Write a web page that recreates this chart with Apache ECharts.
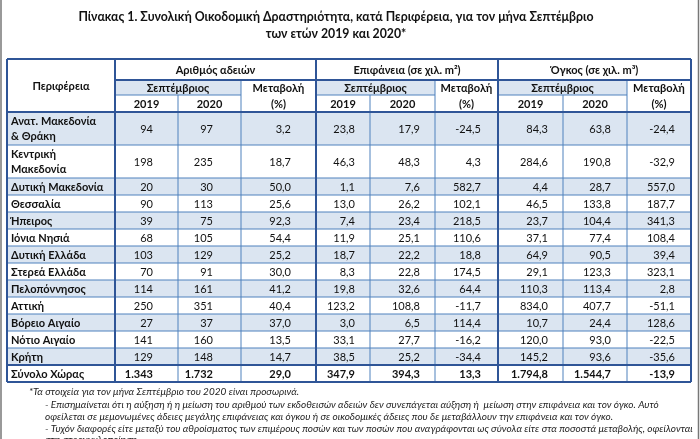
<!DOCTYPE html>
<html>
<head>
<meta charset="utf-8">
<script src="https://cdn.jsdelivr.net/npm/echarts@6/dist/echarts.min.js"></script>
<style>html,body{margin:0;padding:0;background:#fff;}#main{width:700px;height:439px;}</style>
</head>
<body>
<div id="main"></div>
<script>
// ---- DATA ----
const regions = ["Ανατ. Μακεδονία\n& Θράκη", "Κεντρική\nΜακεδονία", "Δυτική Μακεδονία", "Θεσσαλία", "Ήπειρος", "Ιόνια Νησιά", "Δυτική Ελλάδα", "Στερεά Ελλάδα", "Πελοπόννησος", "Αττική", "Βόρειο Αιγαίο", "Νότιο Αιγαίο", "Κρήτη", "Σύνολο Χώρας"];
const permits2019 = [94, 198, 20, 90, 39, 68, 103, 70, 114, 250, 27, 141, 129, 1343];
const permits2020 = [97, 235, 30, 113, 75, 105, 129, 91, 161, 351, 37, 160, 148, 1732];
const permitsChange = [3.2, 18.7, 50.0, 25.6, 92.3, 54.4, 25.2, 30.0, 41.2, 40.4, 37.0, 13.5, 14.7, 29.0];
const area2019 = [23.8, 46.3, 1.1, 13.0, 7.4, 11.9, 18.7, 8.3, 19.8, 123.2, 3.0, 33.1, 38.5, 347.9];
const area2020 = [17.9, 48.3, 7.6, 26.2, 23.4, 25.1, 22.2, 22.8, 32.6, 108.8, 6.5, 27.7, 25.2, 394.3];
const areaChange = [-24.5, 4.3, 582.7, 102.1, 218.5, 110.6, 18.8, 174.5, 64.4, -11.7, 114.4, -16.2, -34.4, 13.3];
const volume2019 = [84.3, 284.6, 4.4, 46.5, 23.7, 37.1, 64.9, 29.1, 110.3, 834.0, 10.7, 120.0, 145.2, 1794.8];
const volume2020 = [63.8, 190.8, 28.7, 133.8, 104.4, 77.4, 90.5, 123.3, 113.4, 407.7, 24.4, 93.0, 93.6, 1544.7];
const volumeChange = [-24.4, -32.9, 557.0, 187.7, 341.3, 108.4, 39.4, 323.1, 2.8, -51.1, 128.6, -22.5, -35.6, -13.9];
const groupTitles = ["Αριθμός αδειών", "Επιφάνεια (σε χιλ. m²)", "Όγκος (σε χιλ. m³)"];
const headerRegion = "Περιφέρεια";
const headerMonth = "Σεπτέμβριος";
const headerChange = "Μεταβολή\n(%)";
const yearLabels = ["2019", "2020"];
const titleLines = ["Πίνακας 1. Συνολική Οικοδομική Δραστηριότητα, κατά Περιφέρεια, για τον μήνα Σεπτέμβριο", "των ετών 2019 και 2020*"];
const notes = [
  "*Τα στοιχεία για τον μήνα Σεπτέμβριο του 2020 είναι προσωρινά.",
  "- Επισημαίνεται ότι η αύξηση ή η μείωση του αριθμού των εκδοθεισών αδειών δεν συνεπάγεται αύξηση ή  μείωση στην επιφάνεια και τον όγκο. Αυτό",
  "οφείλεται σε μεμονωμένες άδειες μεγάλης επιφάνειας και όγκου ή σε οικοδομικές άδειες που δε μεταβάλλουν την επιφάνεια και τον όγκο.",
  "- Τυχόν διαφορές είτε μεταξύ του αθροίσματος των επιμέρους ποσών και των ποσών που αναγράφονται ως σύνολα είτε στα ποσοστά μεταβολής, οφείλονται",
  "στη στρογγυλοποίηση."
];

// ---- LAYOUT ----
const colEdges = [7, 115, 178, 241, 316, 370, 435, 498, 563, 627, 691];
const headerEdges = [59, 80, 95, 112];
const firstRowH = 33, rowH = 17;
const rightPad = [25, 28, 25, 15, 15, 17, 15, 16, 16];
const FONT = 'Lato';
const BLUE = '#dbe5f1';
const THIN = '#4f81bd';
const THICK = '#2f5597';

const rowEdges = headerEdges.slice();
{
  let y = headerEdges[3];
  regions.forEach((r, i) => { y += (i < 2 ? firstRowH : rowH); rowEdges.push(y); });
}
const tableBottom = rowEdges[rowEdges.length - 1];

function fmt(v, dec) {
  const neg = v < 0;
  let s = Math.abs(v).toFixed(dec);
  let [ip, fp] = s.split('.');
  ip = ip.replace(/\B(?=(\d{3})+(?!\d))/g, '.');
  return (neg ? '-' : '') + ip + (fp !== undefined ? ',' + fp : '');
}

const columns = [permits2019, permits2020, permitsChange, area2019, area2020, areaChange, volume2019, volume2020, volumeChange];
const decimals = [0, 0, 1, 1, 1, 1, 1, 1, 1];

const cellMeta = [];
const cellData = [];
function addCell(c0, c1, y0, y1, meta) {
  cellMeta.push(meta);
  cellData.push([colEdges[c0], colEdges[c1], y0, y1, cellMeta.length - 1]);
}
addCell(0, 1, headerEdges[0], headerEdges[3], {text: headerRegion, bold: true, align: 'center', fill: '#fff'});
for (let g = 0; g < 3; g++) {
  const b = 1 + 3 * g;
  addCell(b, b + 3, headerEdges[0], headerEdges[1], {text: groupTitles[g], bold: true, align: 'center', fill: '#fff'});
  addCell(b, b + 2, headerEdges[1], headerEdges[2], {text: headerMonth, bold: true, align: 'center', fill: BLUE});
  addCell(b + 2, b + 3, headerEdges[1], headerEdges[3], {text: headerChange, bold: true, align: 'center', fill: '#fff', lh: 16});
  addCell(b, b + 1, headerEdges[2], headerEdges[3], {text: yearLabels[0], bold: true, align: 'center', fill: '#fff'});
  addCell(b + 1, b + 2, headerEdges[2], headerEdges[3], {text: yearLabels[1], bold: true, align: 'center', fill: '#fff'});
}
regions.forEach((r, i) => {
  const y0 = rowEdges[3 + i], y1 = rowEdges[4 + i];
  const fill = (i % 2 === 0 && i < regions.length - 1) ? BLUE : '#fff';
  const isTotal = i === regions.length - 1;
  addCell(0, 1, y0, y1, {text: r, bold: true, align: 'left', fill: fill, lh: 15});
  columns.forEach((col, c) => {
    addCell(c + 1, c + 2, y0, y1, {text: fmt(col[i], decimals[c]), bold: isTotal, align: 'right', pad: rightPad[c], fill: fill});
  });
});

const lineData = [];
const L = colEdges[0], R = colEdges[colEdges.length - 1];
for (let k = 4; k < rowEdges.length - 2; k++) lineData.push([L, rowEdges[k], R, rowEdges[k], 0]);
for (let g = 0; g < 3; g++) {
  const b = 1 + 3 * g;
  lineData.push([colEdges[b], headerEdges[2], colEdges[b + 2], headerEdges[2], 0]);
  lineData.push([colEdges[b + 1], headerEdges[2], colEdges[b + 1], tableBottom, 0]);
  lineData.push([colEdges[b + 2], headerEdges[1], colEdges[b + 2], tableBottom, 0]);
}
lineData.push([colEdges[1], headerEdges[1], R, headerEdges[1], 1]);
lineData.push([L, headerEdges[3], R, headerEdges[3], 1]);
lineData.push([L, rowEdges[rowEdges.length - 2], R, rowEdges[rowEdges.length - 2], 1]);
[1, 4, 7].forEach(c => lineData.push([colEdges[c], headerEdges[0], colEdges[c], tableBottom, 1]));
lineData.push([L, headerEdges[0], R, headerEdges[0], 1]);
lineData.push([L, tableBottom, R, tableBottom, 1]);
lineData.push([L, headerEdges[0], L, tableBottom, 1]);
lineData.push([R, headerEdges[0], R, tableBottom, 1]);

const noteFont = 'italic 10px ' + FONT;
const chart = echarts.init(document.getElementById('main'), null, {renderer: 'canvas'});
chart.setOption({
  animation: false,
  grid: {left: 0, right: 0, top: 0, bottom: 0},
  xAxis: {type: 'value', min: 0, max: 700, show: false},
  yAxis: {type: 'value', min: 0, max: 439, inverse: true, show: false},
  graphic: [
    {type: 'text', x: 336, y: 17, style: {text: titleLines[0], font: 'bold 12.3px ' + FONT, fill: '#111', textAlign: 'center', textVerticalAlign: 'middle'}},
    {type: 'text', x: 336, y: 34, style: {text: titleLines[1], font: 'bold 12.3px ' + FONT, fill: '#111', textAlign: 'center', textVerticalAlign: 'middle'}},
    {type: 'line', shape: {x1: 1, y1: 0, x2: 1, y2: 439}, style: {stroke: '#777', lineWidth: 1.5}},
    {type: 'line', shape: {x1: 698.5, y1: 0, x2: 698.5, y2: 439}, style: {stroke: '#777', lineWidth: 1.5}},
    {type: 'text', x: 29, y: 392, style: {text: notes[0], font: noteFont, fill: '#222', textVerticalAlign: 'middle'}},
    {type: 'text', x: 45, y: 405, style: {text: notes[1], font: noteFont, fill: '#222', textVerticalAlign: 'middle'}},
    {type: 'text', x: 45, y: 417, style: {text: notes[2], font: noteFont, fill: '#222', textVerticalAlign: 'middle'}},
    {type: 'text', x: 45, y: 429, style: {text: notes[3], font: noteFont, fill: '#222', textVerticalAlign: 'middle'}},
    {type: 'text', x: 45, y: 440, style: {text: notes[4], font: noteFont, fill: '#222', textVerticalAlign: 'middle'}}
  ],
  series: [
    {
      type: 'custom',
      coordinateSystem: 'cartesian2d',
      data: cellData,
      silent: true,
      renderItem: function (params, api) {
        const p0 = api.coord([api.value(0), api.value(2)]);
        const p1 = api.coord([api.value(1), api.value(3)]);
        const m = cellMeta[api.value(4)];
        let tx, ta;
        if (m.align === 'left') { tx = p0[0] + 4; ta = 'left'; }
        else if (m.align === 'right') { tx = p1[0] - m.pad; ta = 'right'; }
        else { tx = (p0[0] + p1[0]) / 2; ta = 'center'; }
        return {
          type: 'group',
          children: [
            {type: 'rect', shape: {x: p0[0], y: p0[1], width: p1[0] - p0[0], height: p1[1] - p0[1]}, style: {fill: m.fill}},
            {type: 'text', x: tx, y: (p0[1] + p1[1]) / 2 + 0.5, style: {text: m.text, textAlign: ta, textVerticalAlign: 'middle', font: (m.bold ? 'bold ' : '') + '11px ' + FONT, lineHeight: m.lh || 14, fill: '#111'}}
          ]
        };
      }
    },
    {
      type: 'custom',
      coordinateSystem: 'cartesian2d',
      data: lineData,
      silent: true,
      z: 5,
      renderItem: function (params, api) {
        const a = api.coord([api.value(0), api.value(1)]);
        const b = api.coord([api.value(2), api.value(3)]);
        const k = api.value(4);
        return {type: 'line', shape: {x1: a[0], y1: a[1], x2: b[0], y2: b[1]},
          style: {stroke: k === 0 ? THIN : THICK, lineWidth: k === 1 ? 2 : 1}};
      }
    }
  ]
});
</script>
</body>
</html>
